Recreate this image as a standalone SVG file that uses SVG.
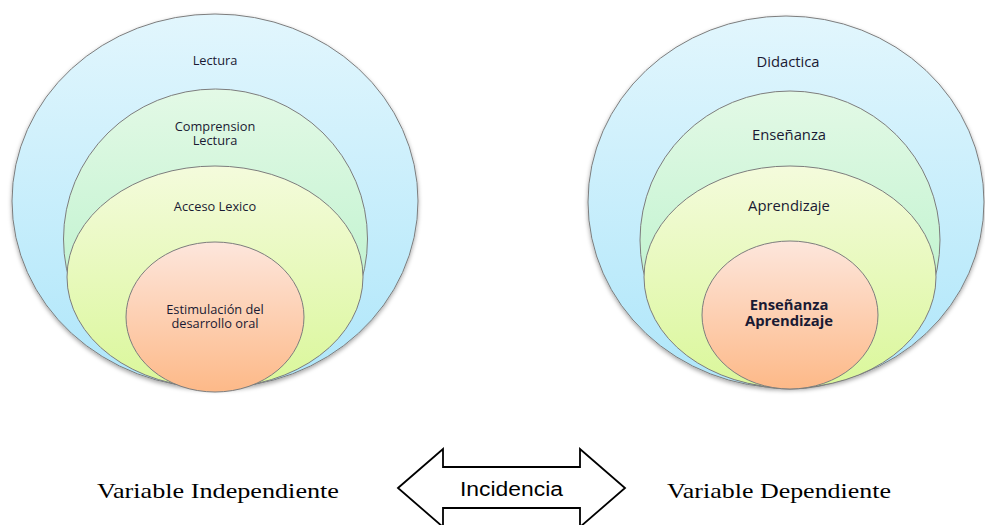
<svg xmlns="http://www.w3.org/2000/svg" width="985" height="525" viewBox="0 0 985 525">
<defs>
<linearGradient id="gBlue" x1="0" y1="0" x2="0" y2="1"><stop offset="0" stop-color="#e2f6fd"/><stop offset="1" stop-color="#aee6fa"/></linearGradient>
<linearGradient id="gGreen" x1="0" y1="0" x2="0" y2="1"><stop offset="0" stop-color="#e3f9e6"/><stop offset="1" stop-color="#b0f0c4"/></linearGradient>
<linearGradient id="gYellow" x1="0" y1="0" x2="0" y2="1"><stop offset="0" stop-color="#f4fbdc"/><stop offset="1" stop-color="#daf79a"/></linearGradient>
<linearGradient id="gOrange" x1="0" y1="0" x2="0" y2="1"><stop offset="0" stop-color="#fde6dc"/><stop offset="1" stop-color="#fdb988"/></linearGradient>
<filter id="sh" x="-10%" y="-10%" width="120%" height="125%"><feDropShadow dx="0" dy="2" stdDeviation="2" flood-color="#000" flood-opacity="0.35"/></filter>
</defs>
<style>
.e{stroke:#7d7d7d;stroke-width:1}
.b{fill:url(#gBlue)}.g{fill:url(#gGreen)}.y{fill:url(#gYellow)}.o{fill:url(#gOrange)}
.t{font-family:"Open Sans","Liberation Sans",sans-serif;fill:#1a1a33;text-anchor:middle}
.l{font-size:12.8px}.r{font-size:14.8px}.bd{font-weight:bold}
.v{font-family:"Liberation Serif",serif;font-size:21px;fill:#000}
</style>
<rect width="985" height="525" fill="#fff"/>
<g id="left-set">
<g id="lectura"><ellipse class="e b" cx="215" cy="201" rx="203" ry="187" filter="url(#sh)"/><text class="t l" x="215" y="65">Lectura</text></g>
<g id="comprension"><ellipse class="e g" cx="215.5" cy="239" rx="152" ry="150"/><text class="t l" x="215" y="131">Comprension<tspan x="215" dy="13.5">Lectura</tspan></text></g>
<g id="acceso"><ellipse class="e y" cx="215" cy="277" rx="148" ry="111"/><text class="t l" x="215" y="211">Acceso Lexico</text></g>
<g id="estimulacion"><ellipse class="e o" cx="215" cy="317" rx="89" ry="75"/><text class="t l" x="215" y="314">Estimulación del<tspan x="215" dy="14">desarrollo oral</tspan></text></g>
</g>
<g id="right-set">
<g id="didactica"><ellipse class="e b" cx="786" cy="202" rx="198" ry="186" filter="url(#sh)"/><text class="t r" x="788" y="67">Didactica</text></g>
<g id="ensenanza"><ellipse class="e g" cx="790" cy="240" rx="150" ry="149"/><text class="t r" x="789" y="140">Enseñanza</text></g>
<g id="aprendizaje"><ellipse class="e y" cx="790" cy="277" rx="146" ry="111"/><text class="t r" x="789" y="211">Aprendizaje</text></g>
<g id="ens-apr"><ellipse class="e o" cx="790" cy="315" rx="88" ry="74"/><text class="t r bd" x="789" y="310">Enseñanza<tspan x="789" dy="16">Aprendizaje</tspan></text></g>
</g>
<g id="connectors">
<g id="incidencia">
<polygon points="398,488 443,449 443,467 580,467 580,449 625,488 580,527 580,508 443,508 443,527" fill="#fff" stroke="#000" stroke-width="1.8" stroke-linejoin="miter"/>
<text x="460" y="496" font-family="Liberation Sans,Arial,sans-serif" font-size="20" fill="#000" textLength="103" lengthAdjust="spacingAndGlyphs">Incidencia</text>
</g>
</g>
<g id="labels">
<text class="v" x="97" y="498" textLength="242" lengthAdjust="spacingAndGlyphs">Variable Independiente</text>
<text class="v" x="667" y="498" textLength="224" lengthAdjust="spacingAndGlyphs">Variable Dependiente</text>
</g>
</svg>
